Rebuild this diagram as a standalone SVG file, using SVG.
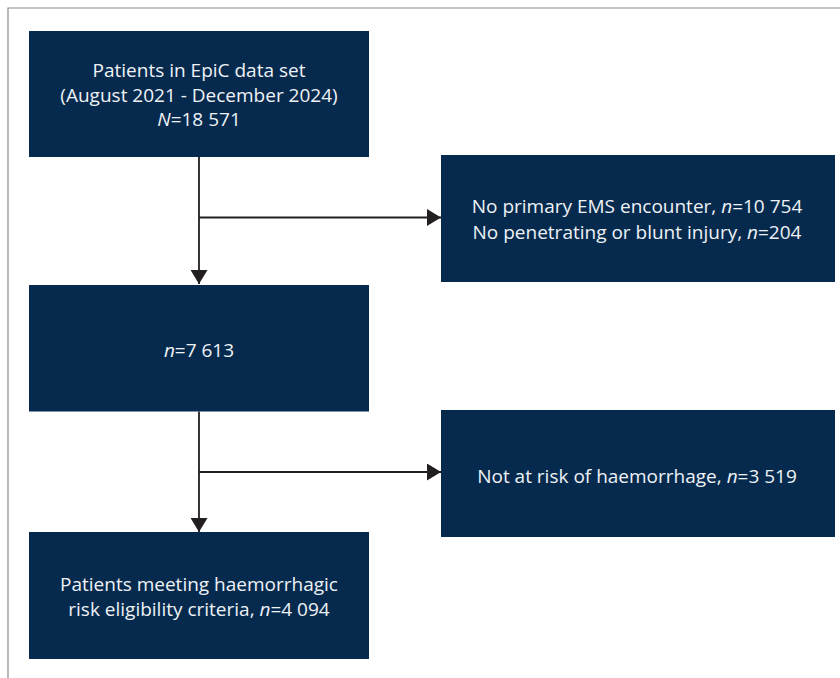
<svg xmlns="http://www.w3.org/2000/svg" width="840" height="678" viewBox="0 0 840 678">
<defs>
<style>
.box{fill:#062a4d}
.t{font-family:"Open Sans","Noto Sans",sans-serif;font-size:19px;fill:#eef2f6;text-anchor:middle}
.i{font-style:italic}
.ln{stroke:#231f20;stroke-width:1.8;fill:none}
.frame{stroke:#8a8a8a;stroke-width:1.2;fill:none}
</style>
<marker id="ahd" viewBox="0 0 10 10" refX="10" refY="5" markerUnits="userSpaceOnUse" markerWidth="14" markerHeight="17" orient="auto" preserveAspectRatio="none">
<path d="M0,0 L10,5 L0,10 Z" fill="#231f20"/>
</marker>
</defs>
<path class="frame" d="M8,678 L8,8 L840,8"/>
<g id="connectors">
<path class="ln" d="M199,157 L199,284" marker-end="url(#ahd)"/>
<path class="ln" d="M199,217.5 L441,217.5" marker-end="url(#ahd)"/>
<path class="ln" d="M199,411.5 L199,532" marker-end="url(#ahd)"/>
<path class="ln" d="M199,472 L441,472" marker-end="url(#ahd)"/>
</g>
<g id="n1">
<rect class="box" x="29" y="31" width="340" height="126"/>
<text class="t" x="199" y="77">Patients in EpiC data set</text>
<text class="t" x="199" y="101.5">(August 2021 - December 2024)</text>
<text class="t" x="199" y="126"><tspan class="i">N</tspan>=18 571</text>
</g>
<g id="n2">
<rect class="box" x="441" y="155" width="394" height="127"/>
<text class="t" x="637" y="213">No primary EMS encounter, <tspan class="i">n</tspan>=10 754</text>
<text class="t" x="637" y="238.5">No penetrating or blunt injury, <tspan class="i">n</tspan>=204</text>
</g>
<g id="n3">
<rect class="box" x="29" y="285" width="340" height="126.5"/>
<text class="t" x="199" y="357"><tspan class="i">n</tspan>=7 613</text>
</g>
<g id="n4">
<rect class="box" x="441" y="410" width="394" height="127"/>
<text class="t" x="637" y="482.5">Not at risk of haemorrhage, <tspan class="i">n</tspan>=3 519</text>
</g>
<g id="n5">
<rect class="box" x="29" y="532" width="340" height="127"/>
<text class="t" x="199" y="591">Patients meeting haemorrhagic</text>
<text class="t" x="199" y="615.5">risk eligibility criteria, <tspan class="i">n</tspan>=4 094</text>
</g>
</svg>
